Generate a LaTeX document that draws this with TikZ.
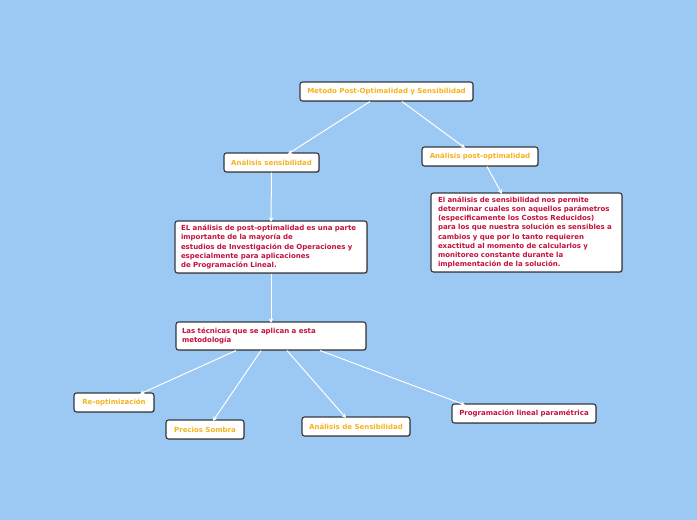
\documentclass[tikz,border=0pt]{standalone}
\usepackage{fontspec}
\setmainfont{DejaVu Sans}
\usetikzlibrary{arrows.meta,shadows}
\definecolor{bg}{HTML}{9BC9F4}
\definecolor{orng}{HTML}{F6B21B}
\definecolor{rd}{HTML}{C4103A}
\definecolor{bord}{HTML}{33383F}
\tikzset{
  box/.style={draw=bord, line width=1.1pt, fill=white, rounded corners=2.5pt,
    drop shadow={shadow xshift=0.8pt, shadow yshift=-0.8pt, fill=black!50, opacity=0.6},
    font=\fontsize{7}{9.2}\selectfont\bfseries, inner sep=0pt},
  title/.style={box, text=orng},
  txt/.style={box, text=rd, align=left},
  conn/.style={draw=white, line width=1pt, -{Stealth[length=4.5pt,width=4.5pt]}}
}
\begin{document}
\begin{tikzpicture}[x=1pt,y=-1pt]
\fill[bg] (0,0) rectangle (697,520);
\useasboundingbox (0,0) rectangle (697,520);

\node[title, minimum width=173pt, minimum height=19pt] (root) at (386.5,91.5) {Metodo Post-Optimalidad y Sensibilidad};
\node[title, minimum width=95pt, minimum height=19pt] (sens) at (271.5,162.5) {Análisis sensibilidad};
\node[title, minimum width=116pt, minimum height=19pt] (post) at (480,156.5) {Análisis post-optimalidad};

\node[txt, minimum width=192pt, minimum height=52pt, text width=180pt] (el) at (271,247)
 {EL análisis de post-optimalidad es una parte\\importante de la mayoría de\\estudios de Investigación de Operaciones y\\especialmente para aplicaciones\\de Programación Lineal.};
\node[txt, minimum width=191pt, minimum height=79pt, text width=177pt] (right) at (526.5,232.5)
 {El análisis de sensibilidad nos permite\\determinar cuales son aquellos parámetros\\(especificamente los Costos Reducidos)\\para los que nuestra solución es sensibles a\\cambios y que por lo tanto requieren\\exactitud al momento de calcularlos y\\monitoreo constante durante la\\implementación de la solución.};
\node[txt, minimum width=190pt, minimum height=28pt, text width=178pt] (tec) at (271,336)
 {Las técnicas que se aplican a esta\\metodología};

\node[title, minimum width=80pt, minimum height=19pt] (reop) at (114,402.5) {Re-optimización};
\node[title, minimum width=78pt, minimum height=19pt] (prec) at (205,429.5) {Precios Sombra};
\node[title, minimum width=108pt, minimum height=19pt] (ads) at (356,426.5) {Análisis de Sensibilidad};
\node[box, text=rd, minimum width=144pt, minimum height=19pt] (plp) at (524,413.5) {Programación lineal paramétrica};

\draw[conn] ([xshift=-16.5pt]root.south) -- ([xshift=16.5pt,yshift=-1.5pt]sens.north);
\draw[conn] ([xshift=15.5pt]root.south) -- ([xshift=-15pt,yshift=-1.5pt]post.north);
\draw[conn] (sens.south) -- ([yshift=-1.5pt]el.north);
\draw[conn] ([xshift=7pt]post.south) -- ([xshift=-24.5pt,yshift=-1.5pt]right.north);
\draw[conn] (el.south) -- ([yshift=-1.5pt]tec.north);
\draw[conn] ([xshift=-35pt]tec.south) -- ([xshift=26pt,yshift=-1.5pt]reop.north);
\draw[conn] ([xshift=-10pt]tec.south) -- ([xshift=8pt,yshift=-1.5pt]prec.north);
\draw[conn] ([xshift=16pt]tec.south) -- ([xshift=-10pt,yshift=-1.5pt]ads.north);
\draw[conn] ([xshift=49pt]tec.south) -- ([xshift=-59pt,yshift=-1.5pt]plp.north);
\end{tikzpicture}
\end{document}
